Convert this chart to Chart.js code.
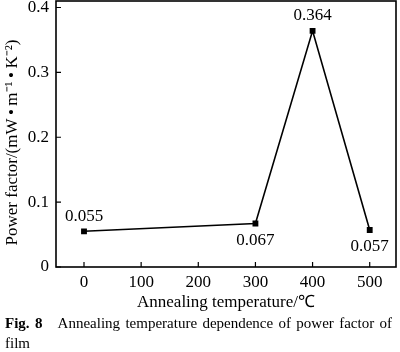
<!DOCTYPE html>
<html>
<head>
<meta charset="utf-8">
<script src="https://cdn.jsdelivr.net/npm/chart.js@4"></script>
<style>
  html, body { margin: 0; padding: 0; background: #fff; }
  #wrap { position: relative; width: 400px; height: 352px; overflow: hidden; }
  #c { position: absolute; left: 0; top: 0; }
  .cap { position: absolute; left: 5px; width: 387px; font-family: "Liberation Serif", "Times New Roman", serif; font-size: 15px; color: #000; line-height: 20px; }
  #cap1 { top: 313px; text-align: justify; text-align-last: justify; white-space: nowrap; }
  #cap2 { top: 333px; }
</style>
</head>
<body>
<div id="wrap">
  <canvas id="c" width="400" height="352"></canvas>
  <div class="cap" id="cap1"><b>Fig. 8</b>&nbsp;&nbsp; Annealing temperature dependence of power factor of</div>
  <div class="cap" id="cap2">film</div>
</div>
<script>
// ---- data ----
const temperatures = [0, 300, 400, 500];
const powerFactor = [0.055, 0.067, 0.364, 0.057];
const pointLabels = ["0.055", "0.067", "0.364", "0.057"];
const labelAbove = [true, false, true, false];
const xTicks = [0, 100, 200, 300, 400, 500];
const yTicks = [0, 0.1, 0.2, 0.3, 0.4];
const xTitle = "Annealing temperature/\u2103";
const yTitle = "Power factor/(mW\u2009\u2022\u2009m\u207B\u00B9\u2009\u2022\u2009K\u207B\u00B2)\u2003";

const FONT = '"Liberation Serif", "Times New Roman", serif';

const framePlugin = {
  id: 'frame',
  afterDraw(chart) {
    const ctx = chart.ctx;
    const a = chart.chartArea;
    const xs = chart.scales.x, ys = chart.scales.y;
    ctx.save();
    ctx.strokeStyle = '#000';
    ctx.lineWidth = 1.6;
    ctx.strokeRect(a.left, a.top, a.right - a.left, a.bottom - a.top);
    ctx.lineWidth = 1.2;
    ctx.beginPath();
    xs.ticks.forEach(t => {
      const px = xs.getPixelForValue(t.value);
      ctx.moveTo(px, a.bottom);
      ctx.lineTo(px, a.bottom - 5);
    });
    ys.ticks.forEach(t => {
      const py = ys.getPixelForValue(t.value);
      ctx.moveTo(a.left, py);
      ctx.lineTo(a.left + 5, py);
    });
    ctx.stroke();
    // value labels
    const meta = chart.getDatasetMeta(0);
    ctx.fillStyle = '#000';
    ctx.font = '17px ' + FONT;
    ctx.textAlign = 'center';
    ctx.textBaseline = 'middle';
    meta.data.forEach((pt, i) => {
      const dy = labelAbove[i] ? -15 : 17;
      ctx.fillText(pointLabels[i], pt.x, pt.y + dy);
    });
    ctx.restore();
  }
};

function noPad(s) { s.paddingTop = 0; s.paddingBottom = 0; s.paddingLeft = 0; s.paddingRight = 0; }

new Chart(document.getElementById('c'), {
  type: 'line',
  data: {
    datasets: [{
      data: temperatures.map((t, i) => ({ x: t, y: powerFactor[i] })),
      borderColor: '#000',
      backgroundColor: '#000',
      borderWidth: 1.6,
      pointStyle: 'rect',
      pointRadius: 3,
      pointHoverRadius: 3,
      tension: 0,
      fill: false
    }]
  },
  options: {
    responsive: false,
    animation: false,
    devicePixelRatio: 1,
    layout: { autoPadding: false, padding: { left: 0, right: 4, top: 1, bottom: 36 } },
    plugins: { legend: { display: false }, tooltip: { enabled: false } },
    scales: {
      x: {
        type: 'linear',
        min: -49,
        max: 546,
        afterBuildTicks: s => { s.ticks = xTicks.map(v => ({ value: v })); },
        afterFit: s => { s.height = 49; noPad(s); },
        grid: { display: false, drawTicks: false },
        border: { display: false },
        ticks: { color: '#000', font: { family: FONT, size: 17 }, padding: 5, maxRotation: 0 },
        title: { display: true, text: xTitle, color: '#000', font: { family: FONT, size: 17 }, padding: { top: 0, bottom: 3 } }
      },
      y: {
        type: 'linear',
        min: 0,
        max: 0.41,
        afterBuildTicks: s => { s.ticks = yTicks.map(v => ({ value: v })); },
        afterFit: s => { s.width = 56; noPad(s); },
        grid: { display: false, drawTicks: false },
        border: { display: false },
        ticks: { color: '#000', font: { family: FONT, size: 17 }, padding: 7,
                 callback: v => String(v) },
        title: { display: true, text: yTitle, color: '#000', font: { family: FONT, size: 17 }, padding: { top: 2, bottom: 0 } }
      }
    }
  },
  plugins: [framePlugin]
});
</script>
</body>
</html>
